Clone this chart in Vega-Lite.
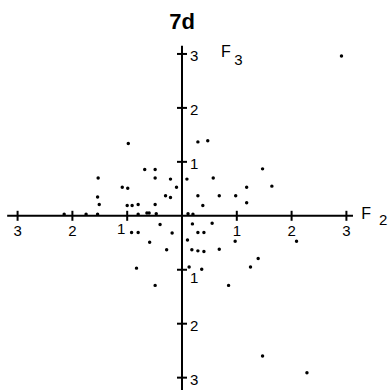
{
  "$schema": "https://vega.github.io/schema/vega-lite/v6.json",
  "width": 388,
  "height": 390,
  "padding": 0,
  "autosize": {"type": "none"},
  "background": "white",
  "config": {"view": {"stroke": null}, "font": "Liberation Sans"},
  "data": {"values": [{}]},
  "datasets": {
    "points": [
      {"x": -0.98, "y": 1.34}, {"x": -0.68, "y": 0.86}, {"x": -0.49, "y": 0.86}, {"x": -1.53, "y": 0.70},
      {"x": -0.49, "y": 0.70}, {"x": -0.21, "y": 0.68}, {"x": -1.09, "y": 0.53}, {"x": -0.99, "y": 0.51},
      {"x": -0.10, "y": 0.53}, {"x": -1.54, "y": 0.35}, {"x": -0.30, "y": 0.37}, {"x": -0.21, "y": 0.34},
      {"x": -1.51, "y": 0.21}, {"x": -1.00, "y": 0.19}, {"x": -0.91, "y": 0.19}, {"x": -0.80, "y": 0.21},
      {"x": -0.49, "y": 0.21}, {"x": -2.15, "y": 0.03}, {"x": -1.75, "y": 0.03}, {"x": -1.54, "y": 0.03},
      {"x": -0.80, "y": 0.03}, {"x": -0.64, "y": 0.05}, {"x": -0.60, "y": 0.05}, {"x": -0.47, "y": 0.04},
      {"x": 0.11, "y": 0.04}, {"x": 0.20, "y": 0.03}, {"x": 0.29, "y": 1.37}, {"x": 0.47, "y": 1.39},
      {"x": 1.47, "y": 0.87}, {"x": 0.09, "y": 0.68}, {"x": 0.57, "y": 0.70}, {"x": 1.18, "y": 0.53},
      {"x": 1.64, "y": 0.55}, {"x": 0.29, "y": 0.37}, {"x": 0.68, "y": 0.37}, {"x": 0.98, "y": 0.37},
      {"x": 1.18, "y": 0.24}, {"x": 0.38, "y": 0.19}, {"x": 2.91, "y": 2.96}, {"x": -0.40, "y": -0.16},
      {"x": -0.92, "y": -0.31}, {"x": -0.80, "y": -0.31}, {"x": -0.18, "y": -0.32}, {"x": -0.59, "y": -0.49},
      {"x": -0.28, "y": -0.63}, {"x": -0.83, "y": -0.97}, {"x": -0.49, "y": -1.29}, {"x": 0.19, "y": -0.15},
      {"x": 0.55, "y": -0.14}, {"x": 0.29, "y": -0.31}, {"x": 0.40, "y": -0.31}, {"x": 0.10, "y": -0.45},
      {"x": 0.97, "y": -0.47}, {"x": 2.09, "y": -0.47}, {"x": 0.18, "y": -0.63}, {"x": 0.29, "y": -0.65},
      {"x": 0.40, "y": -0.66}, {"x": 0.68, "y": -0.62}, {"x": 1.39, "y": -0.79}, {"x": 1.25, "y": -0.95},
      {"x": 0.13, "y": -0.95}, {"x": 0.36, "y": -0.99}, {"x": 0.85, "y": -1.29}, {"x": 1.47, "y": -2.60},
      {"x": 2.28, "y": -2.91}
    ],
    "xlab": [
      {"v": -3, "t": "3"}, {"v": -2, "t": "2"}, {"v": -1, "t": "1"},
      {"v": 1, "t": "1"}, {"v": 2, "t": "2"}, {"v": 3, "t": "3"}
    ],
    "ylab": [
      {"v": 3, "t": "3"}, {"v": 2, "t": "2"}, {"v": 1, "t": "1"},
      {"v": -1, "t": "1"}, {"v": -2, "t": "2"}, {"v": -3, "t": "3"}
    ]
  },
  "layer": [
    {
      "mark": {"type": "rule", "color": "black", "strokeWidth": 2},
      "encoding": {
        "x": {"datum": -3.19, "type": "quantitative", "scale": {"domain": [-3.321, 3.759], "nice": false, "zero": false}, "axis": null},
        "x2": {"datum": 3.12},
        "y": {"datum": 0, "type": "quantitative", "scale": {"domain": [-3.229, 4.0], "nice": false, "zero": false}, "axis": null}
      }
    },
    {
      "mark": {"type": "rule", "color": "black", "strokeWidth": 2},
      "encoding": {
        "x": {"datum": 0, "type": "quantitative", "scale": {"domain": [-3.321, 3.759], "nice": false, "zero": false}, "axis": null},
        "y": {"datum": 3.15, "type": "quantitative", "scale": {"domain": [-3.229, 4.0], "nice": false, "zero": false}, "axis": null},
        "y2": {"datum": -3.3}
      }
    },
    {
      "data": {"name": "xlab"},
      "mark": {"type": "tick", "orient": "vertical", "color": "black", "opacity": 1, "size": 10, "thickness": 2},
      "encoding": {
        "x": {"field": "v", "type": "quantitative", "scale": {"domain": [-3.321, 3.759], "nice": false, "zero": false}, "axis": null},
        "y": {"datum": 0, "type": "quantitative", "scale": {"domain": [-3.229, 4.0], "nice": false, "zero": false}, "axis": null}
      }
    },
    {
      "data": {"name": "ylab"},
      "mark": {"type": "tick", "orient": "horizontal", "color": "black", "opacity": 1, "size": 10, "thickness": 2},
      "encoding": {
        "y": {"field": "v", "type": "quantitative", "scale": {"domain": [-3.229, 4.0], "nice": false, "zero": false}, "axis": null},
        "x": {"datum": 0, "type": "quantitative", "scale": {"domain": [-3.321, 3.759], "nice": false, "zero": false}, "axis": null}
      }
    },
    {
      "data": {"name": "xlab"},
      "transform": [{"filter": "datum.v != -1"}],
      "mark": {"type": "text", "color": "black", "fontSize": 15, "dy": 15, "baseline": "middle", "align": "center"},
      "encoding": {
        "x": {"field": "v", "type": "quantitative", "scale": {"domain": [-3.321, 3.759], "nice": false, "zero": false}, "axis": null},
        "y": {"datum": 0, "type": "quantitative", "scale": {"domain": [-3.229, 4.0], "nice": false, "zero": false}, "axis": null},
        "text": {"field": "t"}
      }
    },
    {
      "data": {"name": "xlab"},
      "transform": [{"filter": "datum.v == -1"}],
      "mark": {"type": "text", "color": "black", "fontSize": 15, "dy": 13, "dx": -6, "baseline": "middle", "align": "center"},
      "encoding": {
        "x": {"field": "v", "type": "quantitative", "scale": {"domain": [-3.321, 3.759], "nice": false, "zero": false}, "axis": null},
        "y": {"datum": 0, "type": "quantitative", "scale": {"domain": [-3.229, 4.0], "nice": false, "zero": false}, "axis": null},
        "text": {"field": "t"}
      }
    },
    {
      "data": {"name": "ylab"},
      "transform": [{"filter": "datum.v != -1"}],
      "mark": {"type": "text", "color": "black", "fontSize": 15, "dx": 8, "dy": 2, "baseline": "middle", "align": "left"},
      "encoding": {
        "y": {"field": "v", "type": "quantitative", "scale": {"domain": [-3.229, 4.0], "nice": false, "zero": false}, "axis": null},
        "x": {"datum": 0, "type": "quantitative", "scale": {"domain": [-3.321, 3.759], "nice": false, "zero": false}, "axis": null},
        "text": {"field": "t"}
      }
    },
    {
      "data": {"name": "ylab"},
      "transform": [{"filter": "datum.v == -1"}],
      "mark": {"type": "text", "color": "black", "fontSize": 15, "dx": 8, "dy": 8, "baseline": "middle", "align": "left"},
      "encoding": {
        "y": {"field": "v", "type": "quantitative", "scale": {"domain": [-3.229, 4.0], "nice": false, "zero": false}, "axis": null},
        "x": {"datum": 0, "type": "quantitative", "scale": {"domain": [-3.321, 3.759], "nice": false, "zero": false}, "axis": null},
        "text": {"field": "t"}
      }
    },
    {
      "data": {"name": "points"},
      "mark": {"type": "circle", "color": "black", "size": 12, "opacity": 1},
      "encoding": {
        "x": {"field": "x", "type": "quantitative", "scale": {"domain": [-3.321, 3.759], "nice": false, "zero": false}, "axis": null},
        "y": {"field": "y", "type": "quantitative", "scale": {"domain": [-3.229, 4.0], "nice": false, "zero": false}, "axis": null}
      }
    },
    {
      "mark": {"type": "text", "color": "black", "fontSize": 22, "fontWeight": "bold", "baseline": "middle", "align": "center"},
      "encoding": {
        "x": {"datum": 0, "type": "quantitative", "scale": {"domain": [-3.321, 3.759], "nice": false, "zero": false}, "axis": null},
        "y": {"datum": 3.6, "type": "quantitative", "scale": {"domain": [-3.229, 4.0], "nice": false, "zero": false}, "axis": null},
        "text": {"value": "7d"}
      }
    },
    {
      "mark": {"type": "text", "color": "black", "fontSize": 16, "baseline": "middle", "align": "center", "dy": -2},
      "encoding": {
        "x": {"datum": 3.36, "type": "quantitative", "scale": {"domain": [-3.321, 3.759], "nice": false, "zero": false}, "axis": null},
        "y": {"datum": 0, "type": "quantitative", "scale": {"domain": [-3.229, 4.0], "nice": false, "zero": false}, "axis": null},
        "text": {"value": "F"}
      }
    },
    {
      "mark": {"type": "text", "color": "black", "fontSize": 15, "baseline": "middle", "align": "center", "dy": 4},
      "encoding": {
        "x": {"datum": 3.67, "type": "quantitative", "scale": {"domain": [-3.321, 3.759], "nice": false, "zero": false}, "axis": null},
        "y": {"datum": 0, "type": "quantitative", "scale": {"domain": [-3.229, 4.0], "nice": false, "zero": false}, "axis": null},
        "text": {"value": "2"}
      }
    },
    {
      "mark": {"type": "text", "color": "black", "fontSize": 16, "baseline": "middle", "align": "center"},
      "encoding": {
        "x": {"datum": 0.8, "type": "quantitative", "scale": {"domain": [-3.321, 3.759], "nice": false, "zero": false}, "axis": null},
        "y": {"datum": 3.04, "type": "quantitative", "scale": {"domain": [-3.229, 4.0], "nice": false, "zero": false}, "axis": null},
        "text": {"value": "F"}
      }
    },
    {
      "mark": {"type": "text", "color": "black", "fontSize": 15, "baseline": "middle", "align": "center", "dy": 8},
      "encoding": {
        "x": {"datum": 1.03, "type": "quantitative", "scale": {"domain": [-3.321, 3.759], "nice": false, "zero": false}, "axis": null},
        "y": {"datum": 3.04, "type": "quantitative", "scale": {"domain": [-3.229, 4.0], "nice": false, "zero": false}, "axis": null},
        "text": {"value": "3"}
      }
    }
  ]
}
